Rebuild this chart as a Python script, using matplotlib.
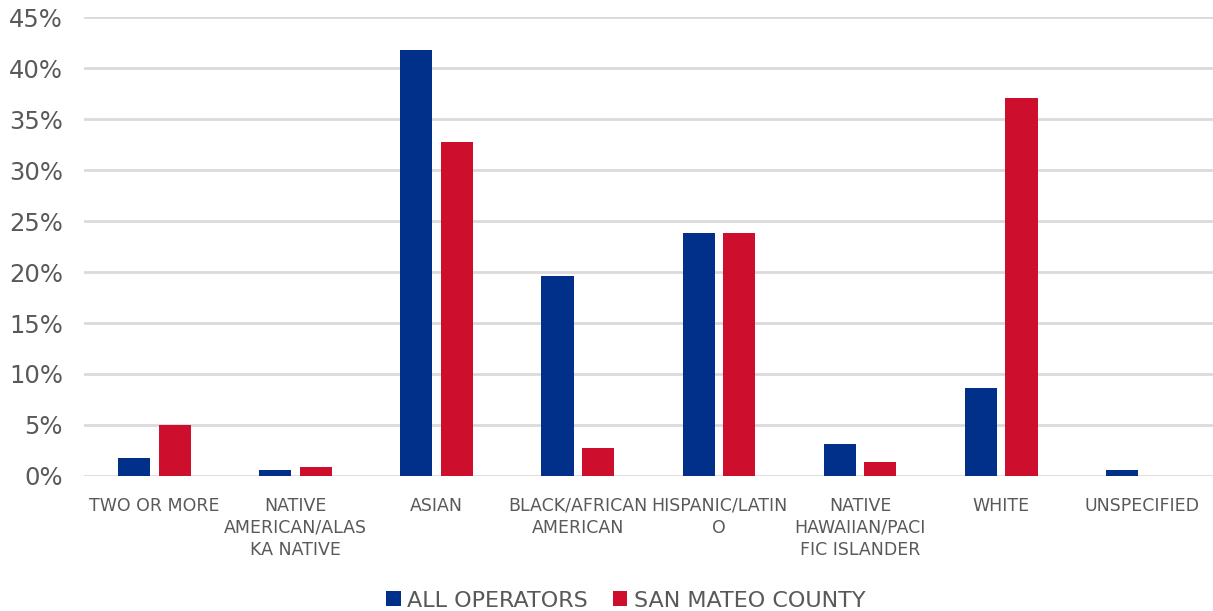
import numpy as np
import matplotlib.pyplot as plt

# categorias y porcentajes
categorias = [
    "TWO OR MORE",
    "NATIVE\nAMERICAN/ALAS\nKA NATIVE",
    "ASIAN",
    "BLACK/AFRICAN\nAMERICAN",
    "HISPANIC/LATIN\nO",
    "NATIVE\nHAWAIIAN/PACI\nFIC ISLANDER",
    "WHITE",
    "UNSPECIFIED",
]
all_operators = [1.8, 0.6, 41.8, 19.6, 23.8, 3.1, 8.6, 0.6]
san_mateo = [5.0, 0.9, 32.8, 2.7, 23.8, 1.4, 37.1, 0.0]
yticks = [0, 5, 10, 15, 20, 25, 30, 35, 40, 45]

azul = "#00308A"
rojo = "#CE0E2D"
gris = "#595959"

plt.rcParams["font.family"] = "DejaVu Sans"

fig = plt.figure(figsize=(12.13, 6.11), dpi=100)
ax = fig.add_axes([0.069, 0.221, 0.931, 0.751])

x = np.arange(len(categorias))
ancho = 0.227
sep = 0.06
ax.bar(x - (ancho + sep) / 2, all_operators, ancho, color=azul, label="ALL OPERATORS", zorder=3)
ax.bar(x + (ancho + sep) / 2, san_mateo, ancho, color=rojo, label="SAN MATEO COUNTY", zorder=3)

ax.set_xlim(-0.5, len(categorias) - 0.5)
ax.set_ylim(0, 45)
ax.set_yticks(yticks)
ax.set_yticklabels([f"{v}%" for v in yticks])
ax.set_xticks(x)
ax.set_xticklabels(categorias, linespacing=1.28)

ax.tick_params(axis="y", length=0, pad=15, labelsize=17.5, labelcolor=gris)
ax.tick_params(axis="x", length=0, pad=15, labelsize=12.5, labelcolor=gris)

ax.grid(axis="y", color="#DADADA", linewidth=2, zorder=0)
ax.set_axisbelow(True)
for s in ax.spines.values():
    s.set_visible(False)

fig.legend(
    loc="lower center",
    bbox_to_anchor=(0.516, -0.032),
    ncol=2,
    frameon=False,
    fontsize=16,
    labelcolor=gris,
    handlelength=0.65,
    handleheight=0.65,
    handletextpad=0.3,
    columnspacing=1.1,
)

fig.savefig("out.png", dpi=100)
